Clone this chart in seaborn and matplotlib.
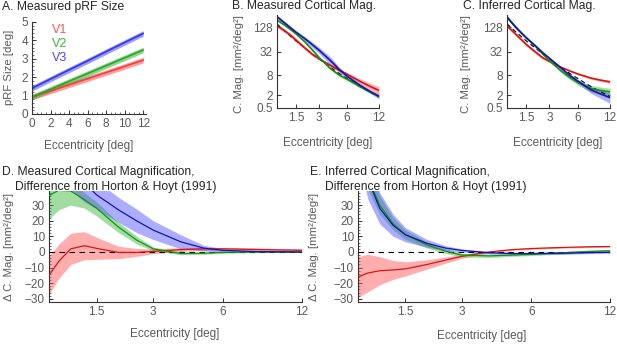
import numpy as np
import pandas as pd
import matplotlib
matplotlib.use("Agg")
import matplotlib.pyplot as plt
from matplotlib.ticker import FixedLocator, MultipleLocator
import seaborn as sns

# ---------------- data ----------------
# Panel A: pRF size vs eccentricity
ecc_a = [0, 3, 6, 9, 12]
prf_v1 = [0.92, 1.42, 1.92, 2.42, 2.93]
prf_v2 = [0.92, 1.56, 2.20, 2.84, 3.48]
prf_v3 = [1.40, 2.15, 2.89, 3.64, 4.38]
prf_half = [0.15, 0.15, 0.15, 0.15, 0.15]

# Eccentricity grid for cortical magnification panels
ecc = [0.65, 0.8, 1.0, 1.25, 1.5, 2, 2.5, 3, 4, 5, 6, 8, 10, 12]
# Horton & Hoyt (1991) reference
hh = [153, 125, 98, 75, 59, 40, 28, 21.3, 13.3, 9.0, 6.6, 3.9, 2.6, 1.84]

# Panel D: measured - H&H
d_v1 = [-15, -6, 2, 4, 2.3, -0.3, -0.3, 0.4, 1.5, 2.0, 2.0, 1.6, 1.3, 1.1]
d_v1_half = [12, 11, 10, 9, 7, 4, 2.5, 1.5, 1.2, 1.0, 1.0, 1.0, 0.9, 0.9]
d_v2 = [36, 39.5, 39, 33.5, 28, 16, 7.5, 2, -1, -0.8, -0.3, 0, 0, 0]
d_v2_lo = [21, 27, 30, 28, 23, 12.5, 5, 0.8, -1.8, -1.5, -0.8, -0.4, -0.3, -0.3]
d_v2_hi = [45, 48, 45, 38, 32, 19, 10, 3.2, -0.2, -0.1, 0.2, 0.4, 0.3, 0.3]
d_v3 = [75, 65, 55, 44, 36.5, 27, 19.8, 14, 6.5, 2.5, 1.0, 0.3, 0.1, 0]
d_v3_half = [20, 18, 15, 12, 9, 8, 7.5, 6, 4.5, 1.8, 1.0, 0.5, 0.3, 0.3]

# Panel E: inferred - H&H
e_v1 = [-16, -13.5, -12, -11.5, -10.8, -8, -5.2, -2.8, 0, 1.5, 2.2, 2.9, 3.3, 3.5]
e_v1_half = [13, 12, 9, 6, 4.5, 3, 2, 1.2, 0.6, 0.5, 0.5, 0.5, 0.5, 0.5]
e_v2 = [62, 48, 30, 18, 11, 4.5, 0.5, -2, -2.5, -2, -1.5, -0.5, 0.3, 0.8]
e_v2_half = [10, 8, 6, 4, 3, 2, 1.5, 1.2, 1.0, 0.8, 0.8, 0.8, 0.8, 0.8]
e_v3 = [75, 47, 28, 17, 11, 5.5, 2.5, 1.0, -0.5, -1, -1, -0.8, -0.4, -0.2]
e_v3_half = [15, 13, 10, 7, 4.5, 2.5, 1.5, 1.0, 0.8, 0.7, 0.7, 0.7, 0.7, 0.7]

areas = ["V1", "V2", "V3"]
xticks_cm = [1.5, 3, 6, 12]
xticklabels_cm = ["1.5", "3", "6", "12"]
yticks_cm = [0.5, 2, 8, 32, 128]
yticklabels_cm = ["0.5", "2", "8", "32", "128"]
yticks_d = [-30, -20, -10, 0, 10, 20, 30]

# ---------------- style ----------------
sns.set_style("ticks")
plt.rcParams["font.family"] = ["Liberation Sans", "DejaVu Sans"]
TICKC = "#5a5a5a"
SPINEC = "#333333"

band_cols = {"V1": "#ff4a4a", "V2": "#2fb52f", "V3": "#4a4aff"}
line_cols = {"V1": "#d01818", "V2": "#129212", "V3": "#1515a8"}
a_line = {"V1": "#ee4040", "V2": "#2aa52a", "V3": "#3535e0"}
lab_cols = {"V1": "#f05a5a", "V2": "#3cb43c", "V3": "#4a4ae8"}

W, H = 617, 345
fig = plt.figure(figsize=(W / 100, H / 100), dpi=100)


def add_ax(l, t, r, b):
    return fig.add_axes([l / W, 1 - b / H, (r - l) / W, (b - t) / H])


def fx(x):
    return np.log2(np.asarray(x, dtype=float) + 1.3)


def ifx(y):
    return 2 ** np.asarray(y, dtype=float) - 1.3


def fy(y):
    return np.log2(np.clip(np.asarray(y, dtype=float), -0.999, None) + 1)


def ify(y):
    return 2 ** np.asarray(y, dtype=float) - 1


def style(ax):
    sns.despine(ax=ax)
    for s in ["left", "bottom"]:
        ax.spines[s].set_color(SPINEC)
        ax.spines[s].set_linewidth(0.8)
    ax.tick_params(direction="in", length=3, width=0.7, color=SPINEC,
                   labelcolor=TICKC, labelsize=8.5, pad=3)
    ax.tick_params(which="minor", direction="in", length=1.6, width=0.5, color=SPINEC)


def ftext(x, y, s, **kw):
    fig.text(x / W, 1 - y / H, s, **kw)


# ---------------- Panel A ----------------
axA = add_ax(32, 22, 146, 114)
ea = np.array(ecc_a)
for name, vals in zip(areas, [prf_v1, prf_v2, prf_v3]):
    v = np.array(vals)
    hw = np.array(prf_half)
    axA.fill_between(ea, v - hw, v + hw, color=band_cols[name], alpha=0.55, lw=0)
    sns.lineplot(x=ecc_a, y=vals, ax=axA, color=a_line[name], lw=1.2)
axA.set_xlim(0, 12.3)
axA.set_ylim(0, 5)
axA.set_xticks(range(0, 13, 2))
axA.set_yticks(range(0, 6))
axA.yaxis.set_minor_locator(MultipleLocator(0.2))
axA.xaxis.set_minor_locator(MultipleLocator(0.5))
style(axA)
for i, name in enumerate(areas):
    axA.text(2.1, 4.55 - 0.75 * i, name, color=lab_cols[name], fontsize=9,
             va="center", ha="left")

# ---------------- Panels B and C ----------------
hh_a = np.array(hh)


def cm_panel(ax, diffs, lows, highs):
    ax.set_xscale("function", functions=(fx, ifx))
    ax.set_yscale("function", functions=(fy, ify))
    for name, m, lo, hi in zip(areas, diffs, lows, highs):
        ax.fill_between(ecc, hh_a + np.array(lo), hh_a + np.array(hi),
                        color=band_cols[name], alpha=0.45, lw=0)
    sns.lineplot(x=ecc, y=hh, ax=ax, color="black", lw=0.8, ls=(0, (4, 3)))
    for name, m in zip(areas, diffs):
        sns.lineplot(x=ecc, y=hh_a + np.array(m), ax=ax, color=line_cols[name], lw=1.2)
    ax.set_xlim(0.65, 12)
    ax.set_ylim(0.5, 250)
    ax.xaxis.set_major_locator(FixedLocator(xticks_cm))
    ax.set_xticklabels(xticklabels_cm)
    ax.yaxis.set_major_locator(FixedLocator(yticks_cm))
    ax.set_yticklabels(yticklabels_cm)
    ax.xaxis.set_minor_locator(FixedLocator([]))
    ax.yaxis.set_minor_locator(FixedLocator([]))
    style(ax)


d_means = [d_v1, d_v2, d_v3]
d_lows = [np.array(d_v1) - np.array(d_v1_half), d_v2_lo, np.array(d_v3) - np.array(d_v3_half)]
d_highs = [np.array(d_v1) + np.array(d_v1_half), d_v2_hi, np.array(d_v3) + np.array(d_v3_half)]
e_means = [e_v1, e_v2, e_v3]
e_lows = [np.array(m) - np.array(h) for m, h in zip(e_means, [e_v1_half, e_v2_half, e_v3_half])]
e_highs = [np.array(m) + np.array(h) for m, h in zip(e_means, [e_v1_half, e_v2_half, e_v3_half])]

axB = add_ax(277, 15, 379, 108)
cm_panel(axB, d_means, d_lows, d_highs)
axC = add_ax(507, 15, 610, 108)
cm_panel(axC, e_means, e_lows, e_highs)

# ---------------- Panels D and E ----------------


def diff_panel(ax, means, lows, highs):
    ax.set_xscale("function", functions=(fx, ifx))
    for name, lo, hi in zip(areas, lows, highs):
        ax.fill_between(ecc, lo, hi, color=band_cols[name], alpha=0.45, lw=0)
    ax.axhline(0, color="black", lw=0.8, ls=(0, (5, 4)), zorder=3)
    for name, m in zip(areas, means):
        sns.lineplot(x=ecc, y=m, ax=ax, color=line_cols[name], lw=0.9, zorder=4)
    ax.set_xlim(0.65, 12)
    ax.set_ylim(-32, 39)
    ax.xaxis.set_major_locator(FixedLocator(xticks_cm))
    ax.set_xticklabels(xticklabels_cm)
    ax.yaxis.set_major_locator(FixedLocator(yticks_d))
    ax.xaxis.set_minor_locator(FixedLocator([]))
    ax.yaxis.set_minor_locator(MultipleLocator(2))
    style(ax)


axD = add_ax(49, 191, 302, 302)
diff_panel(axD, d_means, d_lows, d_highs)
axE = add_ax(358, 191, 610, 302)
diff_panel(axE, e_means, e_lows, e_highs)

for ax in [axA, axB, axC, axD, axE]:
    ax.set_xlabel("")
    ax.set_ylabel("")

# ---------------- text ----------------
TFS = 8.7
ftext(2, 7, "A. Measured pRF Size", fontsize=TFS, va="center", ha="left")
ftext(232, 6, "B. Measured Cortical Mag.", fontsize=TFS, va="center", ha="left")
ftext(463, 6, "C. Inferred Cortical Mag.", fontsize=TFS, va="center", ha="left")
ftext(2, 172, "D. Measured Cortical Magnification,", fontsize=TFS, va="center", ha="left")
ftext(15, 187, "Difference from Horton & Hoyt (1991)", fontsize=TFS, va="center", ha="left")
ftext(310, 172, "E. Inferred Cortical Magnification,", fontsize=TFS, va="center", ha="left")
ftext(325, 187, "Difference from Horton & Hoyt (1991)", fontsize=TFS, va="center", ha="left")

LFS = 8.5
ftext(89, 146, "Eccentricity [deg]", fontsize=LFS, color=TICKC, ha="center", va="center")
ftext(328, 143, "Eccentricity [deg]", fontsize=LFS, color=TICKC, ha="center", va="center")
ftext(558, 143, "Eccentricity [deg]", fontsize=LFS, color=TICKC, ha="center", va="center")
ftext(175, 334, "Eccentricity [deg]", fontsize=LFS, color=TICKC, ha="center", va="center")
ftext(482, 336, "Eccentricity [deg]", fontsize=LFS, color=TICKC, ha="center", va="center")

YFS = 8.2
ftext(9, 67, "pRF Size [deg]", fontsize=YFS, color=TICKC, rotation=90, ha="center", va="center")
ftext(239, 64, "C. Mag. [mm²/deg²]", fontsize=YFS, color=TICKC, rotation=90, ha="center", va="center")
ftext(466, 64, "C. Mag. [mm²/deg²]", fontsize=YFS, color=TICKC, rotation=90, ha="center", va="center")
ftext(9, 247, "Δ C. Mag. [mm²/deg²]", fontsize=YFS, color=TICKC, rotation=90, ha="center", va="center")
ftext(314, 247, "Δ C. Mag. [mm²/deg²]", fontsize=YFS, color=TICKC, rotation=90, ha="center", va="center")

fig.savefig("out.png", dpi=100)
